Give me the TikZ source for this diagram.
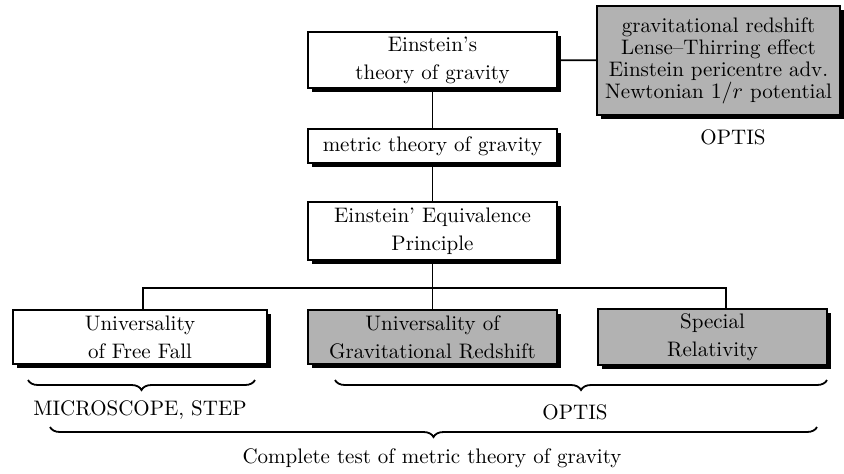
\documentclass[tikz,border=0pt]{standalone}
\usetikzlibrary{positioning, shadows, decorations.pathreplacing, calc}

\begin{document}
\begin{tikzpicture}[
    x=0.5pt, y=-0.5pt,
    font=\fontsize{10.5}{14}\selectfont,
    box/.style={draw, line width=1pt, rectangle, align=center, fill=white, inner sep=0pt,
        drop shadow={shadow xshift=1.8pt, shadow yshift=-1.8pt, fill=black, opacity=1}},
    greybox/.style={box, fill=black!30},
    link/.style={line width=0.9pt},
    brace/.style={decorate, decoration={brace, mirror, amplitude=5pt}, line width=0.9pt},
    label/.style={inner sep=0pt}
]
\useasboundingbox (0,0) rectangle (844,473);

% Theory chain
\node[box, minimum width=124.5pt, minimum height=28pt] (einstein) at (432.5,60) {Einstein's\\theory of gravity};
\node[box, minimum width=124.5pt, minimum height=17pt] (metric) at (432.5,146) {metric theory of gravity};
\node[box, minimum width=124.5pt, minimum height=29pt] (eep) at (432.5,231) {Einstein' Equivalence\\Principle};

% Effects tested by OPTIS
\node[greybox, minimum width=121.5pt, minimum height=54.5pt, font=\fontsize{10.5}{11}\selectfont] (effects) at (718.5,60.5)
    {gravitational redshift\\Lense--Thirring effect\\Einstein pericentre adv.\\Newtonian $1/r$ potential};
\node[label] (optistop) at (733,137) {OPTIS};

% Tests of the equivalence principle
\node[box, minimum width=127pt, minimum height=27pt] (uff) at (140,337) {Universality\\of Free Fall};
\node[greybox, minimum width=124.5pt, minimum height=27pt] (ugr) at (432.5,337) {Universality of\\Gravitational Redshift};
\node[greybox, minimum width=114.5pt, minimum height=28pt] (sr) at (712.5,337) {Special\\Relativity};

% Connections
\coordinate (hl) at (143,288);
\coordinate (hr) at (726,288);
\draw[link] (einstein) -- (effects);
\draw[link] (einstein) -- (metric);
\draw[link] (metric) -- (eep);
\draw[link] (eep) -- (ugr);
\draw[link] (uff.north -| hl) -- (hl) -- (hr) -- (sr.north -| hr);

% Braces
\coordinate (b1l) at (28,380);
\coordinate (b1r) at (255,380);
\coordinate (b2l) at (335,380);
\coordinate (b2r) at (827,380);
\coordinate (b3l) at (50,427);
\coordinate (b3r) at (817,427);
\draw[brace] (b1l) -- (b1r);
\draw[brace] (b2l) -- (b2r);
\draw[brace] (b3l) -- (b3r);

\node[label] (micro) at (140,410) {MICROSCOPE, STEP};
\node[label] (optis) at (575,412) {OPTIS};
\node[label] (complete) at (432,458) {Complete test of metric theory of gravity};

\end{tikzpicture}
\end{document}
